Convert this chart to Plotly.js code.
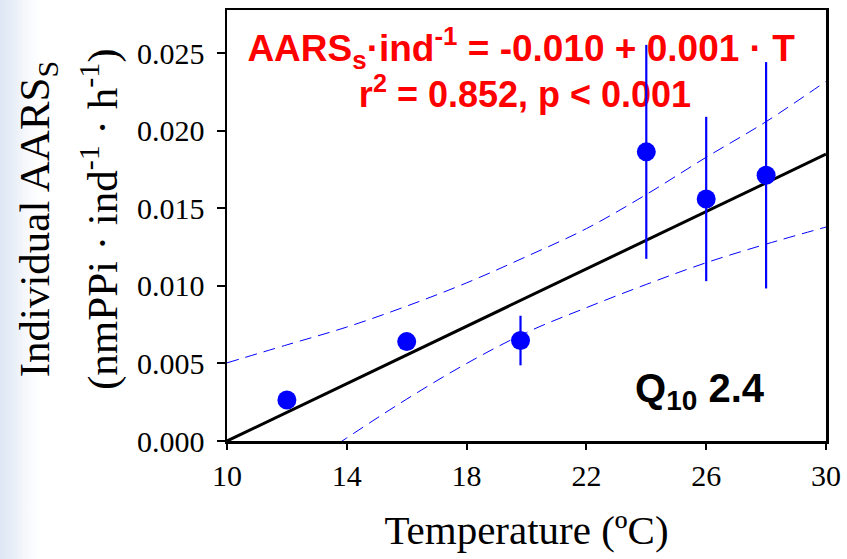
<!DOCTYPE html>
<html>
<head>
<meta charset="utf-8">
<script src="https://cdn.plot.ly/plotly-3.0.1.min.js"></script>
<style>
  html, body { margin: 0; padding: 0; }
  body { width: 847px; height: 559px; background: linear-gradient(to right, #dde6f3 0px, #e9eff8 14px, #f6f8fc 26px, #ffffff 40px); }
  #chart { width: 847px; height: 559px; }
</style>
</head>
<body>
<div id="chart"></div>
<script>
// Measured data (Temperature in ºC, individual AARSs in nmPPi · ind-1 · h-1)
const temperature = [12, 16, 19.8, 24, 26, 28];
const aars = [0.00265, 0.00641, 0.00648, 0.01865, 0.01561, 0.01714];
const aarsErr = [0, 0, 0.0016, 0.0069, 0.0053, 0.0073];

// Regression line
const fitX = [10, 30];
const fitY = [0.0000, 0.0185];

// 95% confidence band
const bandX = [10, 12, 14, 16, 18, 20, 22, 24, 26, 28, 30];
const bandUpper = [0.00504, 0.0062, 0.00735, 0.0087, 0.0102, 0.0119, 0.0137, 0.0159, 0.0183, 0.0206, 0.0232];
const bandLower = [-0.0050, -0.0024, 0.0002, 0.0027, 0.0050, 0.0070, 0.0086, 0.0101, 0.0115, 0.0127, 0.0138];

// Axis ticks
const xTicks = [10, 14, 18, 22, 26, 30];
const yTicks = [0.000, 0.005, 0.010, 0.015, 0.020, 0.025];

// Equation text (drawn beneath the data, as in the original)
const eqLines = ['<b>AARS<sub>s</sub>·ind<sup>-1</sup> = -0.010 + 0.001 · T</b>', '<b>r<sup>2</sup> = 0.852, p < 0.001</b>'];
const eqX = [19.82, 19.95];
const eqY = [0.02512, 0.02212];

const blue = '#0000ff';
const serif = 'Liberation Serif, Times New Roman, serif';
const sans = 'Liberation Sans, Arial, sans-serif';

const traces = [
  { x: [eqX[0]], y: [eqY[0]], mode: 'text', text: [eqLines[0]], textposition: 'middle center', cliponaxis: false,
    textfont: { family: sans, size: 37, color: '#ff0000' }, hoverinfo: 'skip' },
  { x: [eqX[1]], y: [eqY[1]], mode: 'text', text: [eqLines[1]], textposition: 'middle center', cliponaxis: false,
    textfont: { family: sans, size: 36, color: '#ff0000' }, hoverinfo: 'skip' },
  { x: bandX, y: bandUpper, mode: 'lines', line: { color: blue, width: 1, dash: '12px,7px', shape: 'spline' }, hoverinfo: 'skip' },
  { x: bandX, y: bandLower, mode: 'lines', line: { color: blue, width: 1, dash: '12px,7px', shape: 'spline' }, hoverinfo: 'skip' },
  { x: fitX, y: fitY, mode: 'lines', line: { color: '#000000', width: 3 } },
  { x: temperature, y: aars, mode: 'markers',
    marker: { color: blue, size: 19, line: { width: 0 } },
    error_y: { type: 'data', array: aarsErr, visible: true, color: blue, thickness: 2.2, width: 0 } }
];

const layout = {
  width: 847, height: 559,
  margin: { l: 227, r: 21, t: 10, b: 118 },
  paper_bgcolor: 'rgba(0,0,0,0)',
  plot_bgcolor: '#ffffff',
  showlegend: false,
  xaxis: {
    range: [10, 30], tickvals: xTicks, ticktext: xTicks.map(String),
    showgrid: false, zeroline: false,
    showline: true, mirror: true, linecolor: '#000', linewidth: 2.5,
    ticks: 'outside', ticklen: 6, tickwidth: 2, tickcolor: '#000',
    tickfont: { family: serif, size: 30, color: '#000' },
    title: { text: 'Temperature (ºC)', font: { family: serif, size: 41, color: '#000' }, standoff: 25 }
  },
  yaxis: {
    range: [0, 0.0278], tickvals: yTicks, ticktext: yTicks.map(v => v.toFixed(3)),
    showgrid: false, zeroline: false,
    showline: true, mirror: true, linecolor: '#000', linewidth: 2.5,
    ticks: 'outside', ticklen: 8, tickwidth: 2, tickcolor: '#000',
    ticklabelstandoff: 6,
    tickfont: { family: serif, size: 30, color: '#000' }
  },
  annotations: [
    { xref: 'paper', yref: 'paper', x: -0.315, y: 0.515, xanchor: 'center', yanchor: 'middle', textangle: -90,
      text: 'Individual AARS<sub>S</sub>', showarrow: false, font: { family: serif, size: 43, color: '#000' } },
    { xref: 'paper', yref: 'paper', x: -0.2137, y: 0.515, xanchor: 'center', yanchor: 'middle', textangle: -90,
      text: '(nmPPi · ind<sup>-1</sup> · h<sup>-1</sup>)', showarrow: false, font: { family: serif, size: 43, color: '#000' } },
    { xref: 'paper', yref: 'paper', x: 0.7896, y: 0.116, xanchor: 'center', yanchor: 'middle',
      text: '<b>Q<sub>10</sub> 2.4</b>', showarrow: false,
      font: { family: sans, size: 40, color: '#000000' } }
  ]
};

Plotly.newPlot('chart', traces, layout, { displayModeBar: false, staticPlot: true });
</script>
</body>
</html>
